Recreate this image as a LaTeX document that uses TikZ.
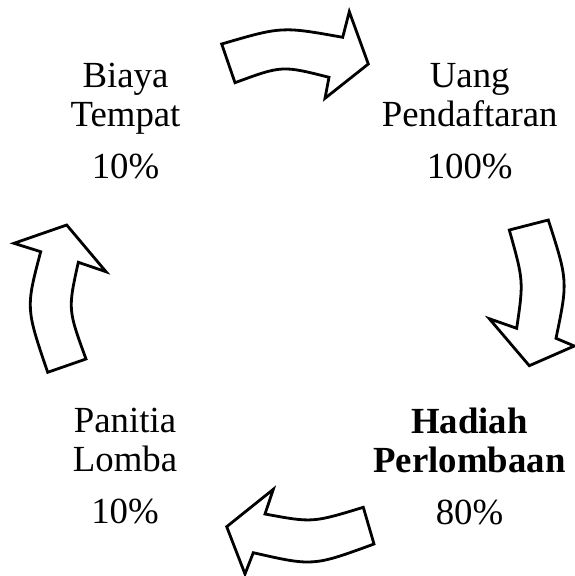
\documentclass[tikz,border=0pt]{standalone}
\usepackage{fontspec}
\setmainfont{Liberation Serif}
\begin{document}
\begin{tikzpicture}[x=1pt,y=-1pt,
  cyclearrow/.style={draw=black,fill=white,line width=2.8pt,line join=miter},
  lbl/.style={anchor=base,inner sep=0pt,font=\fontsize{36.8}{38.7}\selectfont}]
\useasboundingbox (0,0) rectangle (575,576);

% labels: title lines and shares
\node[lbl] (biayaA) at (125.5,87.3) {Biaya};
\node[lbl] (biayaB) at (125.5,126) {Tempat};
\node[lbl] (biayaP) at (125.5,178.3) {10\%};

\node[lbl] (uangA) at (469.7,87.3) {Uang};
\node[lbl] (uangB) at (469.7,126) {Pendaftaran};
\node[lbl] (uangP) at (469.7,178.3) {100\%};

\node[lbl,font=\fontsize{36.8}{38.7}\selectfont\bfseries] (hadiahA) at (469.5,433.3) {Hadiah};
\node[lbl,font=\fontsize{36.8}{38.7}\selectfont\bfseries] (hadiahB) at (469.5,472.3) {Perlombaan};
\node[lbl] (hadiahP) at (469.5,524.3) {80\%};

\node[lbl] (panitiaA) at (125,432.3) {Panitia};
\node[lbl] (panitiaB) at (125,471) {Lomba};
\node[lbl] (panitiaP) at (125,523.3) {10\%};

% curved block arrows between the stages
\draw[cyclearrow] (221.7,44) .. controls (281.8,26.4) .. (342.7,37.3)
  -- (349.3,11.7) -- (368.3,64) -- (325,98.3) -- (329,77.3)
  .. controls (282,65.4) .. (235,82.7) -- cycle;

\draw[cyclearrow] (509.3,230) -- (548.3,220)
  .. controls (567.9,280.9) .. (556,338.3)
  -- (574.3,346) -- (529.3,365.7) -- (489.3,318.7) -- (516.7,328.3)
  .. controls (523.6,280.9) .. cycle;

\draw[cyclearrow] (363.3,507.3) -- (374,544)
  .. controls (313,566.3) .. (253.3,552.7)
  -- (245,574) -- (226.7,526.7) -- (273.3,489.3) -- (265,514)
  .. controls (312.5,522.8) .. cycle;

\draw[cyclearrow] (47.7,372.3) -- (86,359)
  .. controls (67.9,309.4) .. (78.3,262.3)
  -- (106,271.7) -- (66.7,225) -- (14,243.3) -- (40.7,251.7)
  .. controls (25.8,308) .. cycle;
\end{tikzpicture}
\end{document}
